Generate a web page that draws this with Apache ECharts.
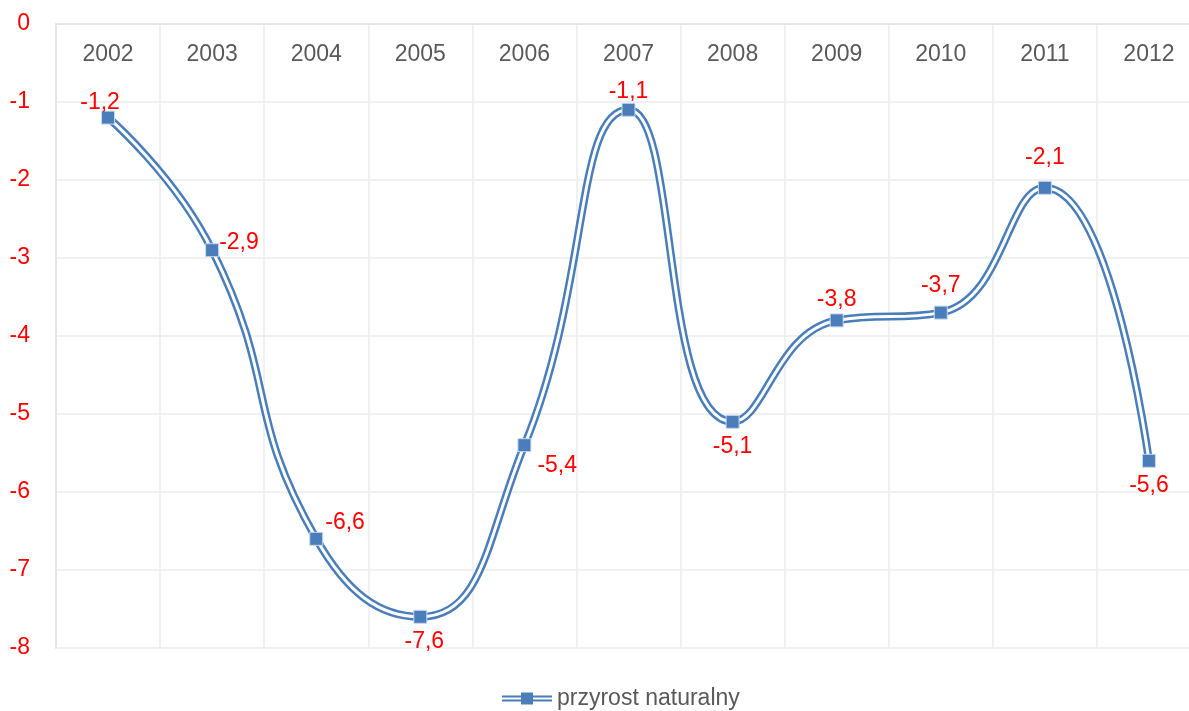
<!DOCTYPE html>
<html>
<head>
<meta charset="utf-8">
<script src="https://cdn.jsdelivr.net/npm/echarts@6/dist/echarts.min.js"></script>
<style>
  html, body { margin: 0; padding: 0; background: #fff; overflow: hidden; }
  #chart { width: 1201px; height: 711px; }
</style>
</head>
<body>
<div id="chart"></div>
<script>
const years = ['2002', '2003', '2004', '2005', '2006', '2007', '2008', '2009', '2010', '2011', '2012']
const przyrost = [-1.2, -2.9, -6.6, -7.6, -5.4, -1.1, -5.1, -3.8, -3.7, -2.1, -5.6]
const yTicks = [0, -1, -2, -3, -4, -5, -6, -7, -8]

// where each red label sits relative to its marker
const labelPlace = ['top', 'right', 'right', 'bottom', 'right', 'top', 'bottom', 'top', 'top', 'top', 'bottom']
const labelOffset = [[-8, 10], [-6, -8], [-4, -16], [4, 0], [0, 20], [0, 6], [0, 0], [0, 4], [0, -2], [0, -6], [0, 0]]

const FONT = "'Liberation Sans Narrow', 'Arial Narrow', 'Liberation Sans', Arial, sans-serif"
const BLUE = '#4a7ebb'

const chart = echarts.init(document.getElementById('chart'))

chart.setOption({
  backgroundColor: '#fff',
  animation: false,
  grid: {
    left: 56,
    top: 24,
    width: 1145,
    height: 624
  },
  legend: {
    top: 682,
    left: 497,
    data: [{
      name: 'przyrost naturalny',
      icon: 'path://M0 3H19V5H0Z M0 7H19V9H0Z M31 3H50V5H31Z M31 7H50V9H31Z M19 0H31V12H19Z'
    }],
    itemWidth: 50,
    itemHeight: 12,
    itemGap: 6,
    textStyle: { fontFamily: FONT, fontSize: 23, color: '#595959' }
  },
  xAxis: {
    type: 'category',
    position: 'top',
    data: years,
    boundaryGap: true,
    axisLine: { show: true, lineStyle: { color: '#e6e6e6', width: 2 } },
    axisTick: { show: false },
    axisLabel: {
      inside: true,
      margin: 19,
      fontFamily: FONT,
      fontSize: 23,
      color: '#595959'
    },
    splitLine: { show: true, lineStyle: { color: '#ececec', width: 1.5 } }
  },
  yAxis: {
    type: 'value',
    min: -8,
    max: 0,
    interval: 1,
    axisLine: { show: true, lineStyle: { color: '#e6e6e6', width: 2 } },
    axisTick: { show: false },
    axisLabel: {
      margin: 26,
      fontFamily: FONT,
      fontSize: 23,
      color: function (v) { return v === 0 ? '#595959' : '#ff0000' },
      formatter: function (v) { return yTicks.indexOf(v) >= 0 ? String(v) : '' }
    },
    splitLine: { show: true, lineStyle: { color: '#ececec', width: 1.5 } }
  },
  series: [
    {
      name: 'przyrost naturalny',
      type: 'line',
      data: przyrost,
      smooth: 0.5,
      symbol: 'none',
      color: BLUE,
      lineStyle: { color: BLUE, width: 8 },
      z: 2
    },
    {
      name: 'inner',
      type: 'line',
      data: przyrost,
      smooth: 0.5,
      symbol: 'none',
      lineStyle: { color: '#fff', width: 3 },
      z: 3
    },
    {
      name: 'markers',
      type: 'line',
      data: przyrost.map(function (v, i) {
        return {
          value: v,
          label: { position: labelPlace[i], offset: labelOffset[i] }
        }
      }),
      lineStyle: { opacity: 0 },
      symbol: 'rect',
      symbolSize: 13,
      itemStyle: { color: BLUE, borderColor: '#c9d8ec', borderWidth: 1 },
      label: {
        show: true,
        distance: 6,
        fontFamily: FONT,
        fontSize: 23,
        color: '#ff0000',
        formatter: function (p) { return String(p.value).replace('.', ',') }
      },
      z: 4
    }
  ]
})
</script>
</body>
</html>
